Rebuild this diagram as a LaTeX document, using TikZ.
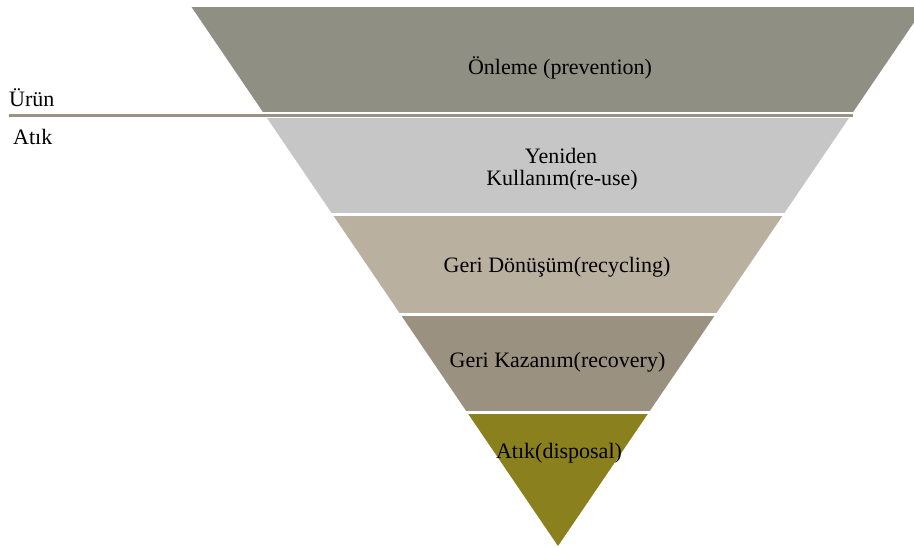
\documentclass[tikz,border=0pt]{standalone}
\usepackage{fontspec}
\setmainfont{Liberation Serif}

\definecolor{prevcol}{RGB}{143,143,131}
\definecolor{reusecol}{RGB}{198,198,198}
\definecolor{recyccol}{RGB}{186,176,160}
\definecolor{recovcol}{RGB}{154,145,128}
\definecolor{dispcol}{RGB}{139,128,30}
\definecolor{splitcol}{RGB}{155,146,130}

\begin{document}
\begin{tikzpicture}[x=1pt,y=-1pt,
    leveltext/.style={font=\fontsize{22}{23}\selectfont, inner sep=0pt, anchor=base, align=center},
    sidetext/.style={font=\fontsize{22}{23}\selectfont, inner sep=0pt, anchor=base west}]

    \useasboundingbox (0,0) rectangle (914,548);

    % Triangle corners
    \coordinate (topL) at (191.5,7);
    \coordinate (topR) at (924.5,7);
    \coordinate (apex) at (558,546);

    % Bands, cut to the triangle
    \begin{scope}
        \clip (topL) -- (topR) -- (apex) -- cycle;
        \fill[prevcol] (0,7) rectangle (914,112);
        \fill[reusecol] (0,118) rectangle (914,213);
        \fill[recyccol] (0,216) rectangle (914,313);
        \fill[recovcol] (0,316) rectangle (914,411);
        \fill[dispcol] (0,414) rectangle (914,548);
    \end{scope}

    % Product / waste split line
    \coordinate (splitL) at (9,115.5);
    \coordinate (splitR) at (853,115.5);
    \draw[splitcol, line width=3pt] (splitL) -- (splitR);

    \node[sidetext] (urun) at (9,107) {Ürün};
    \node[sidetext] (atik) at (13,145) {Atık};

    % Level labels
    \node[leveltext] (prevention) at (560,75) {Önleme (prevention)};
    \node[leveltext] (reuse1) at (561,164) {Yeniden};
    \node[leveltext] (reuse2) at (562,186) {Kullanım(re-use)};
    \node[leveltext] (recycling) at (557,273) {Geri Dönüşüm(recycling)};
    \node[leveltext] (recovery) at (557.5,367) {Geri Kazanım(recovery)};
    \node[leveltext] (disposal) at (559,458) {Atık(disposal)};

\end{tikzpicture}
\end{document}
